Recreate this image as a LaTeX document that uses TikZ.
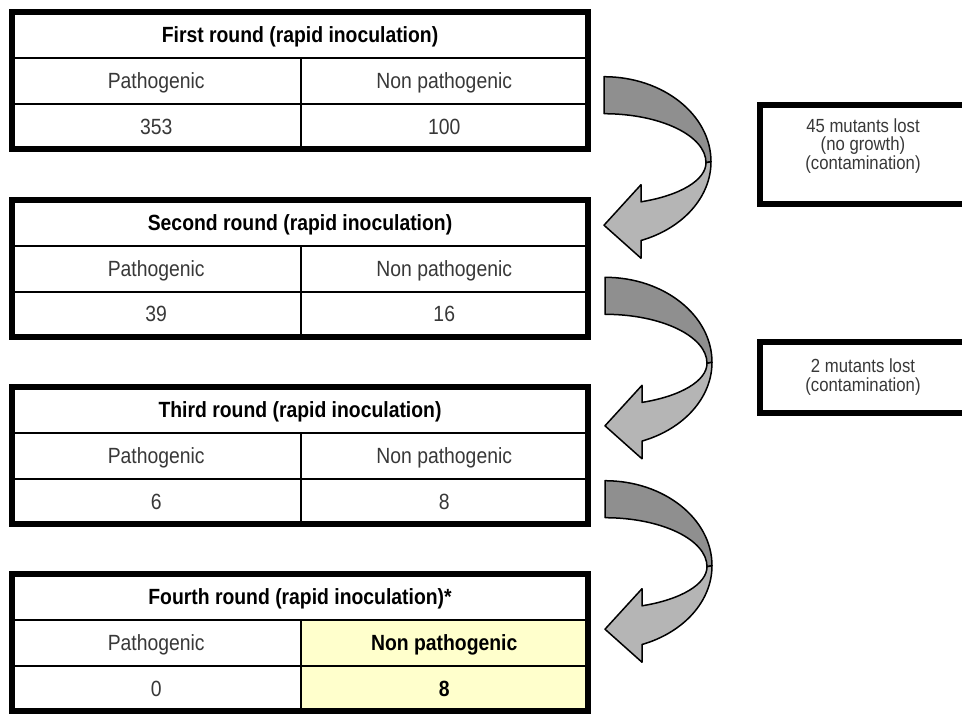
\documentclass[tikz,border=0pt]{standalone}
\usepackage{fontspec}
\setmainfont{Liberation Sans}[FakeStretch=0.88]
\definecolor{arrdark}{HTML}{8F8F8F}
\definecolor{arrlight}{HTML}{B5B5B5}
\definecolor{cellyellow}{HTML}{FFFFCC}
\definecolor{bodytext}{HTML}{383838}
\tikzset{
  cellbox/.style={inner sep=0pt, text height=15.75pt, text depth=0pt,
    font=\fontsize{22}{26}\selectfont, text=bodytext},
  headtext/.style={cellbox, font=\fontsize{22}{26}\selectfont\bfseries, text=black},
  hilite/.style={font=\fontsize{22}{26}\selectfont\bfseries, text=black},
  plain/.style={},
  thinline/.style={line width=2pt, draw=black},
  thickline/.style={line width=6pt, draw=black},
  sidebox/.style={draw=black, line width=6pt, inner sep=0pt, fill=white},
  sidetext/.style={align=center, inner sep=0pt,
    font=\fontsize{19}{18.5}\selectfont, text=bodytext},
  ribbon/.style={draw=black, line width=1.5pt, line join=round},
  curvarrow/.pic={
    \path[ribbon, fill=arrdark] (0,0) .. controls (59.1,0) and (107,38.1) .. (107,85)
      -- (102,86) .. controls (102,58.9) and (56.3,37) .. (0,37) -- cycle;
    \path[ribbon, fill=arrlight] (102,86) -- (107,85)
      .. controls (107,120.2) and (79.1,151.6) .. (37,163.8)
      -- (37,181.5) -- (0,148.5) -- (37,108) -- (37,125.1)
      .. controls (76.2,118.8) and (102,103.3) .. (102,86) -- cycle;
  }
}
% #1 name, #2 top, #3 title, #4 left value, #5 right value, #6 style of right cells
\newcommand\roundtab[6]{%
  \node[headtext] (#1h) at (300,#2+23) {#3};
  \node[cellbox] (#1pl) at (156.25,#2+69) {Pathogenic};
  \node[cellbox,#6] (#1pr) at (444.25,#2+69) {Non pathogenic};
  \node[cellbox] (#1vl) at (156.25,#2+114.5) {#4};
  \node[cellbox,#6] (#1vr) at (444.25,#2+114.5) {#5};
  \draw[thinline] (12,#2+46) -- (588,#2+46);
  \draw[thinline] (12,#2+92) -- (588,#2+92);
  \draw[thinline] (300.5,#2+46) -- (300.5,#2+137);
  \draw[thickline] (12,#2) rectangle (588,#2+137);
}
\begin{document}
\begin{tikzpicture}[x=1pt,y=-1pt]
\useasboundingbox (0,0) rectangle (962,713);
\clip (0,0) rectangle (962,713);
\fill[white] (0,0) rectangle (962,713);

% yellow highlight in the fourth table
\fill[cellyellow] (300.5,620) rectangle (588,711);

\roundtab{t1}{12}{First round (rapid inoculation)}{353}{100}{plain}
\roundtab{t2}{199.5}{Second round (rapid inoculation)}{39}{16}{plain}
\roundtab{t3}{387}{Third round (rapid inoculation)}{6}{8}{plain}
\roundtab{t4}{574}{Fourth round (rapid inoculation)*}{0}{8}{hilite}

% curved arrows
\pic (a1) at (604,76.7) {curvarrow};
\pic (a2) at (605,277.3) {curvarrow};
\pic (a3) at (605,480.7) {curvarrow};

% side boxes
\node[sidebox, minimum width=206pt, minimum height=99pt] (lost1) at (863,154.5) {};
\node[sidetext] (lost1t) at (863,146) {45 mutants lost\\(no growth)\\(contamination)};
\node[sidebox, minimum width=206pt, minimum height=71pt] (lost2) at (863,377.5) {};
\node[sidetext] (lost2t) at (863,377) {2 mutants lost\\(contamination)};
\end{tikzpicture}
\end{document}
